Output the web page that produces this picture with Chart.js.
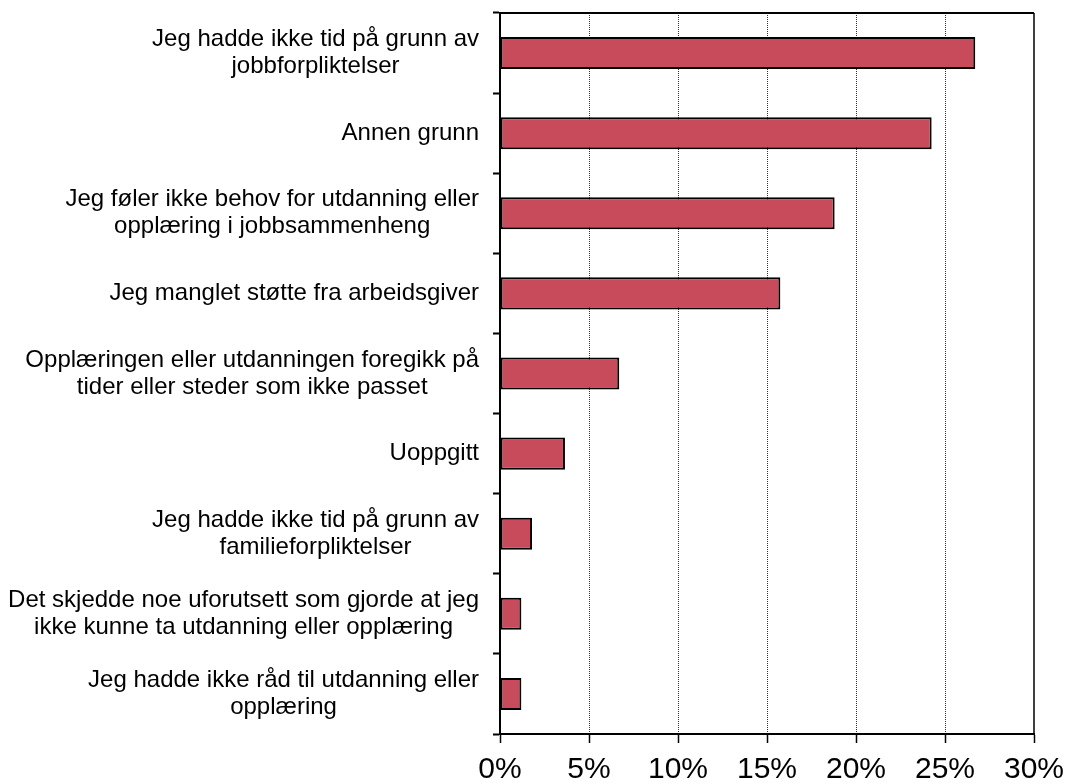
<!DOCTYPE html>
<html>
<head>
  <meta charset="utf-8">
  <script src="https://cdn.jsdelivr.net/npm/chart.js@4.4.1/dist/chart.umd.min.js"></script>
  <style>
    html, body { margin: 0; padding: 0; background: #fff; overflow: hidden; }
    canvas { display: block; }
  </style>
</head>
<body>
<canvas id="reasonsChart" width="1065" height="784"></canvas>

<script type="text/javascript">
    // categories, top to bottom (each entry = lines of the label)
    const categories = [
        ['Jeg hadde ikke tid på grunn av', 'jobbforpliktelser'],
        ['Annen grunn'],
        ['Jeg føler ikke behov for utdanning eller', 'opplæring i jobbsammenheng'],
        ['Jeg manglet støtte fra arbeidsgiver'],
        ['Opplæringen eller utdanningen foregikk på', 'tider eller steder som ikke passet'],
        ['Uoppgitt'],
        ['Jeg hadde ikke tid på grunn av', 'familieforpliktelser'],
        ['Det skjedde noe uforutsett som gjorde at jeg', 'ikke kunne ta utdanning eller opplæring'],
        ['Jeg hadde ikke råd til utdanning eller', 'opplæring']
    ];

    // share of respondents, percent
    const shares = [26.7, 24.25, 18.8, 15.75, 6.7, 3.65, 1.8, 1.2, 1.2];

    const xTicks = [0, 5, 10, 15, 20, 25, 30];

    const FONT = "'Liberation Sans', Arial, sans-serif";

    // category labels: block right-aligned against the axis, lines centred in the block
    const labelPlugin = {
        id: 'blockLabels',
        afterDraw(chart) {
            const ctx = chart.ctx;
            const yScale = chart.scales.y;
            const right = chart.chartArea.left - 21;
            const lineH = 27;
            ctx.save();
            ctx.font = '24px ' + FONT;
            ctx.fillStyle = '#000';
            ctx.textAlign = 'center';
            ctx.textBaseline = 'middle';
            categories.forEach(function(lines, i) {
                let w = 0;
                lines.forEach(function(l) { w = Math.max(w, ctx.measureText(l).width); });
                const cx = right - w / 2;
                const cy = yScale.getPixelForValue(i);
                const top = cy - (lines.length - 1) * lineH / 2;
                lines.forEach(function(l, k) {
                    ctx.fillText(l, cx, top + k * lineH);
                });
            });
            ctx.restore();
        }
    };

    // top and right edges of the plot frame
    const framePlugin = {
        id: 'frame',
        afterDatasetsDraw(chart) {
            const a = chart.chartArea;
            const ctx = chart.ctx;
            ctx.save();
            ctx.strokeStyle = '#000';
            ctx.lineWidth = 2;
            ctx.beginPath();
            ctx.moveTo(a.left, a.top);
            ctx.lineTo(a.right, a.top);
            ctx.stroke();
            ctx.lineWidth = 1.5;
            ctx.beginPath();
            ctx.moveTo(a.right, a.top);
            ctx.lineTo(a.right, a.bottom);
            ctx.stroke();
            ctx.restore();
        }
    };

    const ctx = document.getElementById('reasonsChart').getContext('2d');

    new Chart(ctx, {
        type: 'bar',
        data: {
            labels: categories.map(function(c) { return c.join(' '); }),
            datasets: [{
                data: shares,
                backgroundColor: '#C84B5B',
                borderColor: '#000',
                borderWidth: 2,
                borderSkipped: false,
                categoryPercentage: 1.0,
                barPercentage: 0.4
            }]
        },
        options: {
            indexAxis: 'y',
            responsive: false,
            animation: false,
            devicePixelRatio: 1,
            layout: { padding: { top: 13, right: 31, left: 0, bottom: 0 } },
            plugins: {
                legend: { display: false },
                tooltip: { enabled: false }
            },
            scales: {
                x: {
                    type: 'linear',
                    min: 0,
                    max: 30,
                    afterBuildTicks: function(scale) {
                        scale.ticks = xTicks.map(function(v) { return { value: v }; });
                    },
                    afterFit: function(scale) {
                        scale.height = 50;
                        scale.paddingLeft = 0;
                        scale.paddingRight = 0;
                    },
                    ticks: {
                        color: '#000',
                        padding: 9,
                        font: { family: FONT, size: 30 },
                        callback: function(v) { return v + '%'; }
                    },
                    grid: {
                        color: function(c) {
                            const v = c.tick ? c.tick.value : 0;
                            return (v === 0 || v === 30) ? 'rgba(0,0,0,0)' : '#333';
                        },
                        lineWidth: 1,
                        drawTicks: true,
                        tickLength: 9,
                        tickColor: '#000',
                        tickWidth: 1.5
                    },
                    border: { display: true, color: '#000', width: 2, dash: [1, 1] }
                },
                y: {
                    afterFit: function(scale) { scale.width = 500; },
                    ticks: { display: false },
                    grid: {
                        offset: true,
                        drawOnChartArea: false,
                        drawTicks: true,
                        tickLength: 7,
                        tickColor: '#000',
                        tickWidth: 2
                    },
                    border: { display: true, color: '#000', width: 2 }
                }
            }
        },
        plugins: [labelPlugin, framePlugin]
    });
</script>
</body>
</html>
